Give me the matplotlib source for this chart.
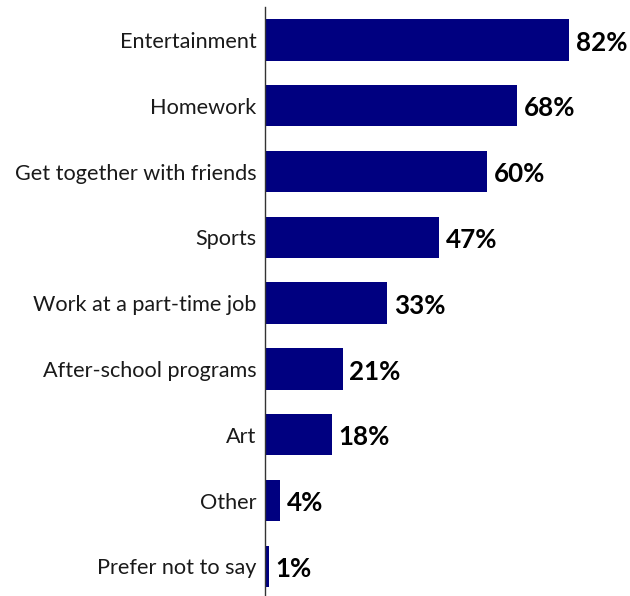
import matplotlib.pyplot as plt

categories = ['Entertainment', 'Homework', 'Get together with friends', 'Sports',
              'Work at a part-time job', 'After-school programs', 'Art', 'Other',
              'Prefer not to say']
values = [82, 68, 60, 47, 33, 21, 18, 4, 1]

plt.rcParams['font.family'] = ['Lato', 'DejaVu Sans']

W, H = 630, 596
fig = plt.figure(figsize=(W / 100, H / 100), dpi=100)
ax = fig.add_axes([265 / W, 0, 1 - 265 / W, 1 - 7 / H])

pos = range(len(categories))
ax.barh(pos, values, height=0.63, color='#000080')

for i, v in zip(pos, values):
    ax.text(v + 1.8, i + 0.04, f'{v}%', va='center', ha='left',
            fontsize=18.7, fontweight='bold', color='black')

ax.set_xlim(0, 98.5)
ax.set_ylim(8.45, -0.5)
ax.set_yticks(list(pos))
ax.set_yticklabels(categories, fontsize=15.6, color='#1a1a1a')
ax.tick_params(axis='y', length=0, pad=6)
ax.set_xticks([])
for side in ['top', 'right', 'bottom']:
    ax.spines[side].set_visible(False)
ax.spines['left'].set_linewidth(1.0)
ax.spines['left'].set_color('#333333')

fig.savefig('out.png', dpi=100)
